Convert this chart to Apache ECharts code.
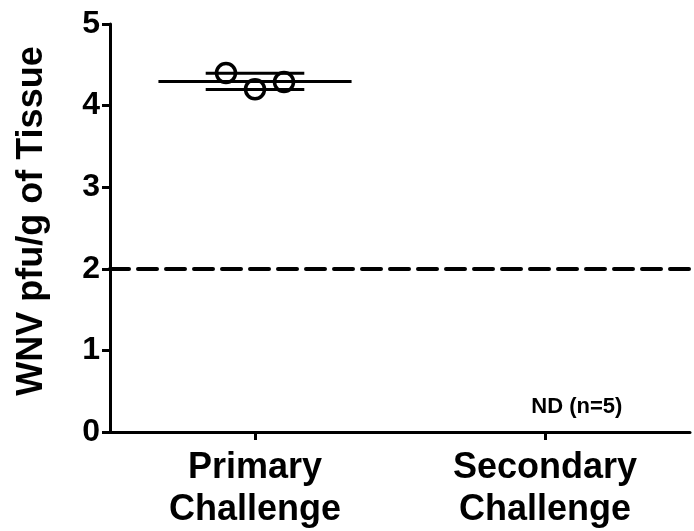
<!DOCTYPE html>
<html>
<head>
<meta charset="utf-8">
<script src="https://cdn.jsdelivr.net/npm/echarts@6/dist/echarts.min.js"></script>
<style>html,body{margin:0;padding:0;background:#fff}#c{width:694px;height:531px}</style>
</head>
<body>
<div id="c"></div>
<script>
var categories = ['Primary\nChallenge', 'Secondary\nChallenge'];
var primaryValues = [4.40, 4.20, 4.29];
var primaryJitter = [0.40, 0.50, 0.60];
var detectionLimit = 2;
var yTicks = [0, 1, 2, 3, 4, 5];
var ndLabel = 'ND (n=5)';
var ndPosition = [1.61, 0.31];

var mean = primaryValues.reduce(function(a, b){return a + b;}, 0) / primaryValues.length;
var sd = Math.sqrt(primaryValues.reduce(function(a, v){return a + (v - mean) * (v - mean);}, 0) / (primaryValues.length - 1));

var font = 'Liberation Sans, Arial, Helvetica, sans-serif';
var chart = echarts.init(document.getElementById('c'));
chart.setOption({
  animation: false,
  grid: {left: 110, right: 4, top: 24, bottom: 99, containLabel: false},
  xAxis: [{
    type: 'category', data: categories, boundaryGap: true,
    axisLine: {lineStyle: {color: '#000', width: 3}},
    axisTick: {show: true, alignWithLabel: true, length: 8, lineStyle: {color: '#000', width: 3}},
    axisLabel: {color: '#000', fontFamily: font, fontWeight: 'bold', fontSize: 36, lineHeight: 42, margin: 15},
    splitLine: {show: false}
  }, {
    type: 'value', min: 0, max: 2, show: false
  }],
  yAxis: {
    type: 'value', min: 0, max: 5, interval: 1,
    name: 'WNV pfu/g of Tissue', nameLocation: 'middle', nameGap: 60,
    nameTextStyle: {color: '#000', fontFamily: font, fontWeight: 'bold', fontSize: 36, padding: [0, 0, 0, 14]},
    axisLine: {show: true, lineStyle: {color: '#000', width: 3}},
    axisTick: {show: true, length: 8, lineStyle: {color: '#000', width: 3}},
    axisLabel: {color: '#000', fontFamily: font, fontWeight: 'bold', fontSize: 32, margin: 10,
      formatter: function(v){ return yTicks.indexOf(v) >= 0 ? String(v) : ''; }},
    splitLine: {show: false}
  },
  series: [{
    type: 'line', xAxisIndex: 1, symbol: 'none',
    data: [[0.5 - 0.333, mean], [0.5 + 0.333, mean]],
    lineStyle: {color: '#000', width: 3}
  }, {
    type: 'line', xAxisIndex: 1, symbol: 'none',
    data: [[0.5 - 0.17, mean + sd], [0.5 + 0.17, mean + sd]],
    lineStyle: {color: '#000', width: 3}
  }, {
    type: 'line', xAxisIndex: 1, symbol: 'none',
    data: [[0.5 - 0.17, mean - sd], [0.5 + 0.17, mean - sd]],
    lineStyle: {color: '#000', width: 3}
  }, {
    type: 'scatter', xAxisIndex: 1,
    data: primaryValues.map(function(v, i){ return [primaryJitter[i], v]; }),
    symbol: 'circle', symbolSize: 19,
    itemStyle: {color: 'rgba(255,255,255,0)', borderColor: '#000', borderWidth: 3.5, opacity: 1},
    markLine: {
      silent: true, symbol: 'none', label: {show: false},
      lineStyle: {color: '#000', width: 4, type: [19, 9], cap: 'round', opacity: 1},
      data: [{yAxis: detectionLimit}]
    }
  }, {
    type: 'scatter', xAxisIndex: 1, symbolSize: 0,
    data: [ndPosition],
    itemStyle: {opacity: 1},
    label: {show: true, position: 'inside', formatter: ndLabel, color: '#000',
      textBorderWidth: 0, fontFamily: font, fontWeight: 'bold', fontSize: 22}
  }]
});
</script>
</body>
</html>
